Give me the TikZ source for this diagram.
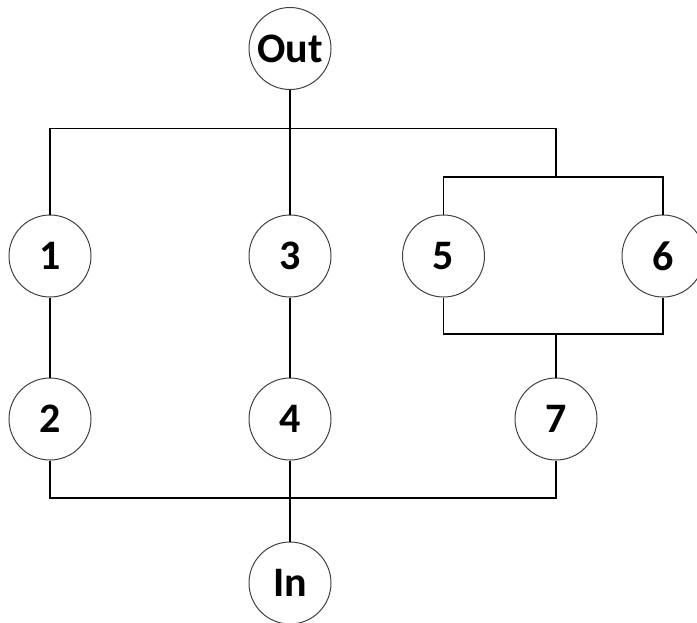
\documentclass[tikz,border=0pt]{standalone}
\usepackage{fontspec}
\setmainfont{Carlito}
\begin{document}
\begin{tikzpicture}[x=1pt,y=-1pt,
  unit/.style={circle,draw=black!75,line width=1pt,minimum size=82pt,inner sep=0pt,
    font=\fontsize{42}{44}\selectfont\bfseries},
  wire/.style={line width=1.1pt,black}]
\useasboundingbox (0,0) rectangle (697,622);
% blocks
\node[unit] (out) at (290,48.5) {Out};
\node[unit] (n1) at (50,256) {1};
\node[unit] (n3) at (290,256) {3};
\node[unit] (n5) at (443.5,256) {5};
\node[unit] (n6) at (663,256) {6};
\node[unit] (n2) at (50,419) {2};
\node[unit] (n4) at (290,419) {4};
\node[unit] (n7) at (556,419) {7};
\node[unit] (in) at (290,583) {In};
% junction points
\coordinate (topbus) at (290,128.5);
\coordinate (par) at (556,128.5);
\coordinate (partop) at (556,177);
\coordinate (parbot) at (556,334);
\coordinate (botbus) at (290,498);
% top bus
\draw[wire] (out) -- (topbus);
\draw[wire] (n1) |- (par) -- (partop);
\draw[wire] (n3) -- (topbus);
\draw[wire] (n5.north) |- (partop) -| (n6.north);
\draw[wire] (n5.south) |- (parbot) -| (n6.south);
\draw[wire] (parbot) -- (n7);
% series links
\draw[wire] (n1) -- (n2);
\draw[wire] (n3) -- (n4);
% bottom bus
\draw[wire] (n2) |- (botbus) -| (n7);
\draw[wire] (n4) -- (in);
\end{tikzpicture}
\end{document}
